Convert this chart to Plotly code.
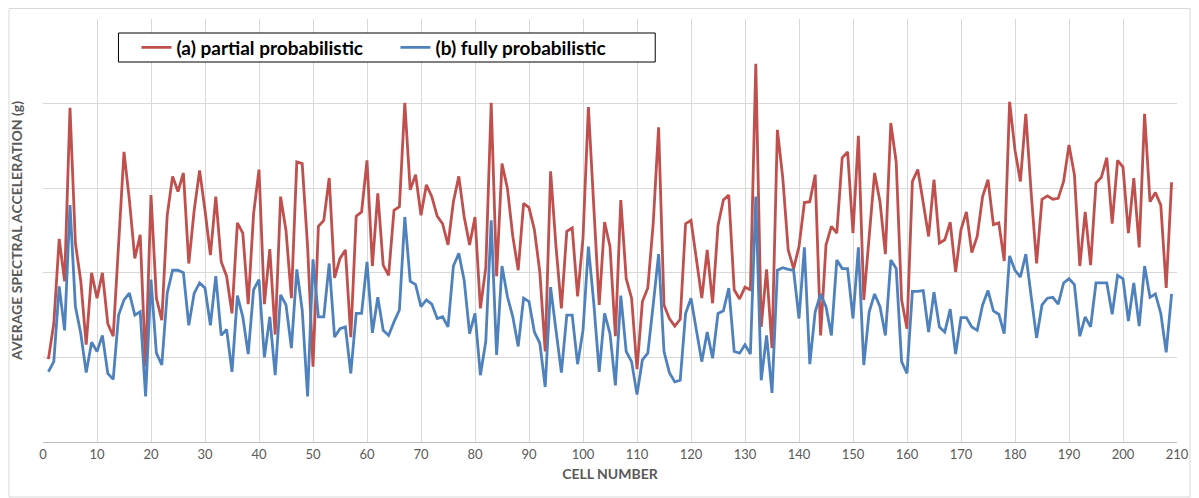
import plotly.graph_objects as go

cells = list(range(1, 210))

partial = [
    0.098, 0.140, 0.240, 0.190, 0.395, 0.235, 0.190, 0.115, 0.200, 0.170,
    0.200, 0.140, 0.125, 0.235, 0.343, 0.286, 0.217, 0.245, 0.089, 0.292,
    0.170, 0.144, 0.268, 0.314, 0.296, 0.318, 0.211, 0.274, 0.321, 0.274,
    0.221, 0.290, 0.213, 0.196, 0.152, 0.259, 0.247, 0.163, 0.270, 0.322,
    0.163, 0.228, 0.127, 0.290, 0.250, 0.170, 0.331, 0.329, 0.231, 0.089,
    0.255, 0.262, 0.312, 0.194, 0.217, 0.227, 0.124, 0.267, 0.272, 0.333,
    0.208, 0.294, 0.209, 0.197, 0.274, 0.278, 0.401, 0.298, 0.316, 0.268,
    0.304, 0.290, 0.267, 0.258, 0.233, 0.284, 0.314, 0.266, 0.233, 0.266,
    0.158, 0.206, 0.401, 0.196, 0.329, 0.300, 0.243, 0.203, 0.282, 0.277,
    0.251, 0.201, 0.107, 0.320, 0.231, 0.158, 0.249, 0.253, 0.172, 0.241,
    0.396, 0.278, 0.162, 0.260, 0.231, 0.125, 0.286, 0.193, 0.170, 0.086,
    0.166, 0.182, 0.258, 0.372, 0.162, 0.146, 0.137, 0.145, 0.258, 0.262,
    0.217, 0.170, 0.227, 0.164, 0.256, 0.286, 0.292, 0.180, 0.169, 0.183,
    0.180, 0.447, 0.136, 0.204, 0.111, 0.369, 0.312, 0.227, 0.205, 0.231,
    0.283, 0.284, 0.316, 0.126, 0.233, 0.255, 0.247, 0.336, 0.343, 0.247,
    0.362, 0.168, 0.243, 0.318, 0.284, 0.222, 0.377, 0.331, 0.168, 0.134,
    0.308, 0.322, 0.283, 0.243, 0.310, 0.235, 0.239, 0.260, 0.201, 0.251,
    0.272, 0.224, 0.243, 0.290, 0.310, 0.257, 0.259, 0.214, 0.402, 0.345,
    0.308, 0.388, 0.294, 0.211, 0.287, 0.291, 0.287, 0.288, 0.308, 0.351,
    0.316, 0.208, 0.272, 0.209, 0.306, 0.313, 0.336, 0.258, 0.333, 0.325,
    0.247, 0.312, 0.230, 0.388, 0.284, 0.295, 0.280, 0.182, 0.307,
]

fully = [
    0.083, 0.095, 0.184, 0.132, 0.280, 0.160, 0.128, 0.082, 0.118, 0.107,
    0.126, 0.081, 0.074, 0.150, 0.168, 0.176, 0.150, 0.154, 0.054, 0.192,
    0.105, 0.091, 0.176, 0.203, 0.203, 0.200, 0.138, 0.176, 0.188, 0.182,
    0.138, 0.196, 0.126, 0.133, 0.083, 0.173, 0.148, 0.104, 0.180, 0.192,
    0.100, 0.148, 0.079, 0.174, 0.162, 0.111, 0.204, 0.156, 0.054, 0.216,
    0.148, 0.148, 0.211, 0.124, 0.134, 0.136, 0.081, 0.152, 0.152, 0.213,
    0.129, 0.171, 0.132, 0.126, 0.142, 0.156, 0.266, 0.190, 0.186, 0.160,
    0.168, 0.163, 0.146, 0.148, 0.136, 0.208, 0.223, 0.191, 0.128, 0.152,
    0.079, 0.119, 0.262, 0.103, 0.208, 0.172, 0.148, 0.113, 0.170, 0.166,
    0.130, 0.117, 0.065, 0.183, 0.132, 0.082, 0.150, 0.150, 0.092, 0.132,
    0.231, 0.164, 0.083, 0.152, 0.128, 0.067, 0.173, 0.107, 0.095, 0.056,
    0.097, 0.105, 0.162, 0.222, 0.107, 0.082, 0.071, 0.073, 0.152, 0.170,
    0.132, 0.095, 0.130, 0.099, 0.152, 0.155, 0.182, 0.107, 0.105, 0.115,
    0.104, 0.290, 0.073, 0.126, 0.058, 0.203, 0.206, 0.204, 0.203, 0.146,
    0.230, 0.092, 0.154, 0.175, 0.160, 0.126, 0.215, 0.205, 0.205, 0.146,
    0.230, 0.091, 0.154, 0.175, 0.160, 0.126, 0.215, 0.205, 0.095, 0.081,
    0.178, 0.178, 0.179, 0.130, 0.177, 0.136, 0.130, 0.157, 0.104, 0.147,
    0.147, 0.136, 0.132, 0.162, 0.179, 0.155, 0.151, 0.128, 0.220, 0.203,
    0.195, 0.222, 0.172, 0.123, 0.162, 0.170, 0.171, 0.163, 0.188, 0.193,
    0.186, 0.125, 0.148, 0.136, 0.188, 0.188, 0.188, 0.151, 0.197, 0.193,
    0.143, 0.188, 0.137, 0.208, 0.171, 0.175, 0.152, 0.106, 0.175,
]

x_ticks = list(range(0, 220, 10))

RED = "#C0504D"
BLUE = "#4F81BD"
GRAY_TXT = "#595959"
FONT = "Lato, Noto Sans, sans-serif"

# plot geometry (figure px); page body offsets the figure by 8px
W, H = 1191, 490
ML, MR, MT, MB = 34.5, 22, 11, 56
PW = W - ML - MR
PH = H - MT - MB


def px_to_paper_x(sx):
    return (sx - 8 - ML) / PW


def px_to_paper_y(sy):
    return (H - MB - (sy - 8)) / PH


fig = go.Figure()
fig.add_trace(go.Scatter(x=cells, y=partial, mode="lines", name="(a) partial probabilistic",
                         line=dict(color=RED, width=2.8)))
fig.add_trace(go.Scatter(x=cells, y=fully, mode="lines", name="(b) fully probabilistic",
                         line=dict(color=BLUE, width=2.8)))

fig.update_layout(
    width=W, height=H,
    margin=dict(l=ML, r=MR, t=MT, b=MB),
    paper_bgcolor="white", plot_bgcolor="white",
    font=dict(family=FONT, color=GRAY_TXT),
    showlegend=True,
    legend=dict(
        orientation="h", x=px_to_paper_x(136), y=px_to_paper_y(47.5),
        xanchor="left", yanchor="middle",
        borderwidth=0, bgcolor="rgba(0,0,0,0)",
        font=dict(family=FONT, size=19, color="black", weight="bold"),
        entrywidth=214, entrywidthmode="pixels",
    ),
    xaxis=dict(
        range=[0, 210], tickvals=x_ticks, ticktext=[str(t) for t in x_ticks],
        showgrid=True, gridcolor="#d9d9d9", gridwidth=1, automargin=False,
        showline=True, linecolor="#bfbfbf", linewidth=1,
        ticks="", tickfont=dict(size=13, color=GRAY_TXT), zeroline=False,
        title=dict(text="CELL NUMBER", font=dict(size=14, color=GRAY_TXT, weight="bold"), standoff=8),
    ),
    yaxis=dict(
        range=[0, 0.5], dtick=0.1, showticklabels=False, automargin=False,
        showgrid=True, gridcolor="#d9d9d9", gridwidth=1, zeroline=False, ticks="",
        title=dict(text="AVERAGE SPECTRAL ACCELERATION (g)",
                   font=dict(size=14, color=GRAY_TXT, weight="bold"), standoff=16),
    ),
)

# legend frame (white box with black border)
fig.add_shape(type="rect", xref="paper", yref="paper",
              x0=px_to_paper_x(118), x1=px_to_paper_x(655),
              y0=px_to_paper_y(62), y1=px_to_paper_y(33),
              line=dict(color="black", width=1), fillcolor="white", layer="above")

# outer chart frame
fig.add_shape(type="rect", xref="paper", yref="paper",
              x0=px_to_paper_x(8.5), x1=px_to_paper_x(1190),
              y0=px_to_paper_y(497), y1=px_to_paper_y(8.5),
              line=dict(color="#d9d9d9", width=1), fillcolor="rgba(0,0,0,0)", layer="below")

fig.write_html("out.html")
